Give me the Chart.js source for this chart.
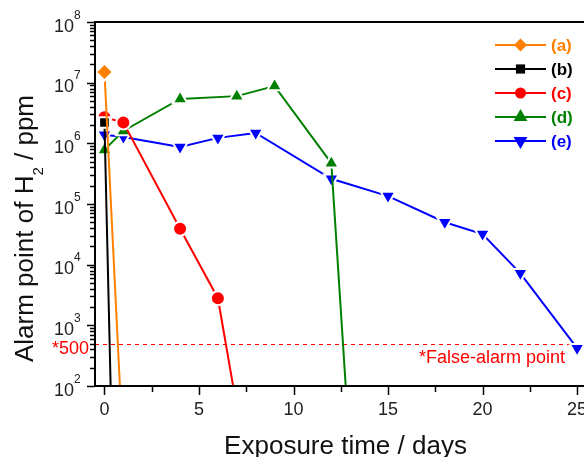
<!DOCTYPE html>
<html>
<head>
<meta charset="utf-8">
<script src="https://cdn.jsdelivr.net/npm/chart.js@4.4.0/dist/chart.umd.min.js"></script>
<style>
html,body{margin:0;padding:0;overflow:hidden;background:#fff;width:584px;height:457px}
#wrap{width:620px;height:457px;position:relative}
canvas{display:block}
</style>
</head>
<body>
<div id="wrap"><canvas id="c" width="620" height="457" style="width:620px;height:457px"></canvas></div>
<script>
// ---- data ----
const daysA = [0, 1];
const ppmA  = [1.5e7, 7];
const daysB = [0, 0.5];
const ppmB  = [2.2e6, 0.5];
const daysC = [0, 1, 4, 6, 7];
const ppmC  = [2.7e6, 2.2e6, 3.9e4, 2.8e3, 45];
const daysD = [0, 1, 4, 7, 9, 12, 13];
const ppmD  = [7.8e5, 1.6e6, 5.4e6, 6.0e6, 8.8e6, 4.7e5, 7];
const daysE = [0, 1, 4, 6, 8, 12, 15, 18, 20, 22, 25];
const ppmE  = [1.38e6, 1.27e6, 8.7e5, 1.23e6, 1.48e6, 2.6e5, 1.35e5, 5.0e4, 3.2e4, 7.2e3, 420];
const seriesLabels = ['(a)', '(b)', '(c)', '(d)', '(e)'];
const xTickValues = [0, 5, 10, 15, 20, 25];
const xMinorValues = [2.5, 7.5, 12.5, 17.5, 22.5];
const yDecades = [2, 3, 4, 5, 6, 7, 8];
const falseAlarmPpm = 500;
const falseAlarmLabel = '*False-alarm point';
const falseAlarmTick = '*500';
const xTitle = 'Exposure time / days';
const yTitleParts = ['Alarm point of H', '2', ' / ppm'];

const FONT = "'Liberation Sans', Arial, sans-serif";
const colors = ['#FF8000', '#000000', '#FF0000', '#008000', '#0000FF'];
const styles = [
  {pointStyle: 'rectRot', radius: 8.5, rotation: 0, legendRadius: 6.5},
  {pointStyle: 'rect', radius: 7.5, rotation: 0, legendRadius: 6.5},
  {pointStyle: 'circle', radius: 7, rotation: 0, legendRadius: 5.5},
  {pointStyle: 'triangle', radius: 8.5, rotation: 0, legendRadius: 8},
  {pointStyle: 'triangle', radius: 8.5, rotation: 180, legendRadius: 8}
];

function pts(xs, ys) { return xs.map((x, i) => ({x: x, y: ys[i]})); }
const allX = [daysA, daysB, daysC, daysD, daysE];
const allY = [ppmA, ppmB, ppmC, ppmD, ppmE];

const datasets = allX.map((xs, i) => ({
  label: seriesLabels[i],
  data: pts(xs, allY[i]),
  showLine: true,
  borderColor: colors[i],
  backgroundColor: colors[i],
  borderWidth: 2,
  pointStyle: styles[i].pointStyle,
  pointRadius: styles[i].radius,
  pointRotation: styles[i].rotation,
  pointBackgroundColor: colors[i],
  pointBorderColor: '#ffffff',
  pointBorderWidth: 2,
  clip: 0,
  tension: 0
}));

const decorations = {
  id: 'decorations',
  beforeDatasetsDraw(chart) {
    const ctx = chart.ctx, a = chart.chartArea, ys = chart.scales.y;
    const y500 = ys.getPixelForValue(falseAlarmPpm);
    ctx.save();
    ctx.strokeStyle = '#FF0000';
    ctx.lineWidth = 1;
    ctx.setLineDash([4, 4]);
    ctx.beginPath();
    ctx.moveTo(a.left, Math.round(y500) + 0.5);
    ctx.lineTo(a.right, Math.round(y500) + 0.5);
    ctx.stroke();
    ctx.restore();
  },
  afterDatasetsDraw(chart) {
    const ctx = chart.ctx, a = chart.chartArea, xs = chart.scales.x, ys = chart.scales.y;
    ctx.save();
    // frame
    ctx.strokeStyle = '#000';
    ctx.lineWidth = 2;
    ctx.strokeRect(a.left, a.top, a.right - a.left, a.bottom - a.top);
    // x ticks
    ctx.lineWidth = 1.5;
    xTickValues.forEach(v => {
      const px = Math.round(xs.getPixelForValue(v)) + 0.5;
      ctx.beginPath(); ctx.moveTo(px, a.bottom); ctx.lineTo(px, a.bottom + 9); ctx.stroke();
    });
    xMinorValues.forEach(v => {
      const px = Math.round(xs.getPixelForValue(v)) + 0.5;
      ctx.beginPath(); ctx.moveTo(px, a.bottom); ctx.lineTo(px, a.bottom + 6); ctx.stroke();
    });
    // y ticks
    yDecades.forEach(n => {
      const py = Math.round(ys.getPixelForValue(Math.pow(10, n))) + 0.5;
      ctx.beginPath(); ctx.moveTo(a.left - 8, py); ctx.lineTo(a.left, py); ctx.stroke();
      if (n < 8) {
        for (let m = 2; m <= 9; m++) {
          const pm = Math.round(ys.getPixelForValue(m * Math.pow(10, n))) + 0.5;
          ctx.beginPath(); ctx.moveTo(a.left - 5, pm); ctx.lineTo(a.left, pm); ctx.stroke();
        }
      }
    });
    // y tick labels 10^n
    ctx.fillStyle = '#222';
    ctx.textBaseline = 'alphabetic';
    yDecades.forEach(n => {
      const py = ys.getPixelForValue(Math.pow(10, n));
      ctx.font = '18px ' + FONT;
      ctx.textAlign = 'right';
      ctx.fillText('10', 74, py + 9.5);
      ctx.font = '12px ' + FONT;
      ctx.textAlign = 'left';
      ctx.fillText(String(n), 74, py - 3.5);
    });
    // false alarm labels
    const y500 = ys.getPixelForValue(falseAlarmPpm);
    ctx.fillStyle = '#FF0000';
    ctx.font = '18px ' + FONT;
    ctx.textAlign = 'right';
    ctx.fillText(falseAlarmTick, 89, y500 + 10.5);
    ctx.fillText(falseAlarmLabel, 565, y500 + 19);
    // y title with subscript
    ctx.save();
    ctx.fillStyle = '#111';
    ctx.translate(33, 228.5);
    ctx.rotate(-Math.PI / 2);
    ctx.textAlign = 'left';
    ctx.font = '26px ' + FONT;
    const w1 = ctx.measureText(yTitleParts[0]).width;
    const w3 = ctx.measureText(yTitleParts[2]).width;
    ctx.font = '15px ' + FONT;
    const w2 = ctx.measureText(yTitleParts[1]).width;
    let x0 = -(w1 + w2 + w3) / 2;
    ctx.font = '26px ' + FONT;
    ctx.fillText(yTitleParts[0], x0, 0);
    ctx.font = '15px ' + FONT;
    ctx.fillText(yTitleParts[1], x0 + w1, 10);
    ctx.font = '26px ' + FONT;
    ctx.fillText(yTitleParts[2], x0 + w1 + w2, 0);
    ctx.restore();
    // legend
    chart.data.datasets.forEach((ds, i) => {
      const ly = 45 + i * 24;
      ctx.strokeStyle = ds.borderColor;
      ctx.lineWidth = 2;
      ctx.setLineDash([]);
      ctx.beginPath(); ctx.moveTo(495, ly); ctx.lineTo(546, ly); ctx.stroke();
      ctx.fillStyle = ds.borderColor;
      ctx.strokeStyle = ds.borderColor;
      Chart.helpers.drawPoint(ctx, {
        pointStyle: ds.pointStyle, radius: styles[i].legendRadius,
        rotation: ds.pointRotation, borderWidth: 0
      }, 520.5, ly);
      ctx.font = 'bold 17px ' + FONT;
      ctx.textAlign = 'left';
      ctx.textBaseline = 'middle';
      ctx.fillStyle = ds.borderColor;
      ctx.fillText(ds.label, 551, ly + 1);
    });
    ctx.restore();
  }
};

new Chart(document.getElementById('c'), {
  type: 'scatter',
  data: {datasets: datasets},
  options: {
    responsive: false,
    animation: false,
    devicePixelRatio: 1,
    layout: {padding: {top: 22, right: 24, left: 0, bottom: 0}},
    plugins: {legend: {display: false}, tooltip: {enabled: false}},
    scales: {
      x: {
        type: 'linear', min: -0.5, max: 26,
        afterFit(s) { s.height = 71; },
        afterBuildTicks(s) { s.ticks = xTickValues.map(v => ({value: v})); },
        grid: {display: false, drawTicks: false},
        border: {display: false},
        ticks: {color: '#222', font: {family: FONT, size: 18}, padding: 13, maxRotation: 0, autoSkip: false},
        title: {display: true, text: xTitle, color: '#111', font: {family: FONT, size: 26, lineHeight: 0.8}, padding: {top: 0, bottom: 0}}
      },
      y: {
        type: 'logarithmic', min: 100, max: 1e8,
        afterFit(s) { s.width = 95; },
        grid: {display: false, drawTicks: false},
        border: {display: false},
        ticks: {display: false}
      }
    }
  },
  plugins: [decorations]
});
</script>
</body>
</html>
